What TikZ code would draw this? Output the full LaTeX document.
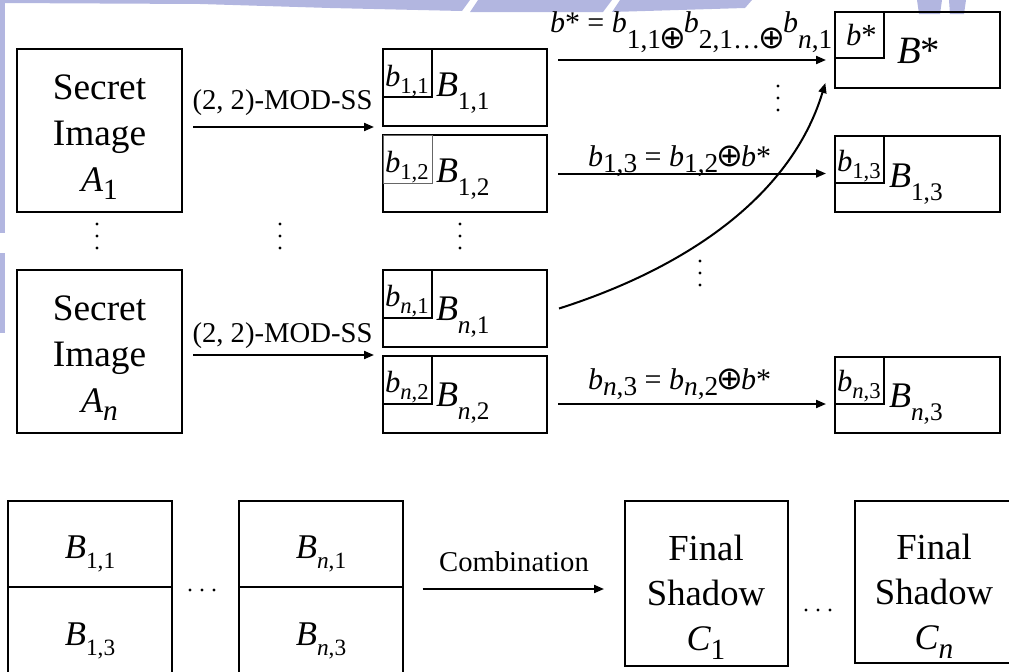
\documentclass[tikz,border=0pt]{standalone}
\usepackage{fontspec}
\setmainfont{Liberation Serif}
\newfontfamily\symf{DejaVu Sans}
\usepackage{graphicx}
\usetikzlibrary{arrows.meta,fit}
\definecolor{wm}{RGB}{178,182,224}

\newcommand\nn{{\itshape n}}
\newcommand\inB[2]{{\fontsize{27}{27}\selectfont\itshape #1\upshape\raisebox{-10pt}{\fontsize{19}{19}\selectfont #2}}}
\newcommand\inb[2]{{\fontsize{23}{23}\selectfont\itshape #1\upshape\raisebox{-5.5pt}{\fontsize{17}{17}\selectfont #2}}}
\newcommand\lsub[2]{{\itshape b}\raisebox{-#1}{\fontsize{20.5}{20.5}\selectfont #2}}
\newcommand\lop[1]{\kern-1.5pt\raisebox{-#1}{\symf\fontsize{24}{24}\selectfont ⊕}\kern-1.5pt}
\newcommand\botB[1]{{\fontsize{26}{26}\selectfont\itshape B\upshape\raisebox{-8pt}{\fontsize{17.5}{17.5}\selectfont #1}}}
\newcommand\bigfont{\fontsize{28}{34.5}\selectfont}
\newcommand\Asub[2]{{\fontsize{27}{27}\selectfont\itshape #1}\raisebox{-6.5pt}{\fontsize{22}{22}\selectfont #2}}

\begin{document}
\begin{tikzpicture}[x=0.75pt,y=-0.75pt,
  box/.style={draw,line width=1.5pt,inner sep=0pt},
  sbox/.style={draw,line width=1.3pt,inner sep=0pt},
  thinbox/.style={draw=black!60,line width=0.7pt,inner sep=0pt},
  arr/.style={line width=1.5pt,-{Triangle[length=7.5pt,width=6pt]}},
  txt/.style={inner sep=0pt,outer sep=0pt},
  bigtxt/.style={inner sep=0pt,align=center,font=\bigfont},
  lab/.style={inner sep=0pt,font=\fontsize{21.5}{21.5}\selectfont}]
\useasboundingbox (0,0) rectangle (1009,671);
% watermark
\fill[wm] (0,0)--(470,0)--(462,11)--(330,8)--(200,4)--(0,3)--cycle;
\fill[wm] (478,0)--(612,0)--(603,12)--(470,12)--cycle;
\fill[wm] (620,0)--(752,0)--(745,8)--(612,12)--cycle;
\fill[wm] (917,0)--(942,0)--(940,14)--(919,14)--cycle;
\fill[wm] (949,0)--(966,0)--(964,14)--(950,14)--cycle;
\fill[wm] (0,0)--(5,0)--(5,233)--(0,233)--cycle;
\fill[wm] (0,253)--(5,253)--(5,333)--(0,333)--cycle;

% secret images
\node[box,fit={(17,49)(182,212)}] (A1) {};
\node[box,fit={(17,270)(182,433)}] (An) {};
\node[bigtxt] (tA1) at (99.5,137) {Secret\\Image\\\Asub{A}{1}};
\node[bigtxt] (tAn) at (99.5,358) {Secret\\Image\\\Asub{A}{\nn}};

% share boxes
\node[box,fit={(383,49)(547,126)}] (B11) {};
\node[sbox,fit={(383,49)(432,97)}] (s11) {};
\node[box,fit={(383,135)(547,212)}] (B12) {};
\node[thinbox,fit={(383,135)(432,183)}] (s12) {};
\node[box,fit={(383,270)(547,347)}] (Bn1) {};
\node[sbox,fit={(383,270)(432,318)}] (sn1) {};
\node[box,fit={(383,356)(547,433)}] (Bn2) {};
\node[sbox,fit={(383,356)(432,404)}] (sn2) {};
\node[box,fit={(835,12)(1000,88)}] (Bs) {};
\node[sbox,fit={(835,12)(884,58)}] (ss) {};
\node[box,fit={(835,136)(1000,212)}] (B13) {};
\node[sbox,fit={(835,136)(884,183)}] (s13) {};
\node[box,fit={(835,357)(1000,433)}] (Bn3) {};
\node[sbox,fit={(835,357)(884,404)}] (sn3) {};

\node[txt,anchor=base west] (tB11) at (436,96) {\inB{B}{1,1}};
\node[txt,anchor=base west] (tb11) at (385,86) {\inb{b}{1,1}};
\node[txt,anchor=base west] (tB12) at (436,182) {\inB{B}{1,2}};
\node[txt,anchor=base west] (tb12) at (385,172) {\inb{b}{1,2}};
\node[txt,anchor=base west] (tBn1) at (436,320) {\inB{B}{\nn,1}};
\node[txt,anchor=base west] (tbn1) at (385,306) {\inb{b}{\nn,1}};
\node[txt,anchor=base west] (tBn2) at (436,406) {\inB{B}{\nn,2}};
\node[txt,anchor=base west] (tbn2) at (385,392) {\inb{b}{\nn,2}};
\node[txt,anchor=base west] (tBs) at (897,63) {\fontsize{29}{29}\selectfont\itshape B\upshape*};
\node[txt,anchor=base west] (tbs) at (846,45) {\fontsize{23}{23}\selectfont\itshape b\upshape*};
\node[txt,anchor=base west] (tB13) at (889,187) {\inB{B}{1,3}};
\node[txt,anchor=base west] (tb13) at (837,171) {\inb{b}{1,3}};
\node[txt,anchor=base west] (tBn3) at (889,407) {\inB{B}{\nn,3}};
\node[txt,anchor=base west] (tbn3) at (837,391) {\inb{b}{\nn,3}};

% arrows
\coordinate (yt) at (0,60);
\coordinate (yb) at (0,404);
\draw[arr,shorten <=7.5pt,shorten >=6pt] (A1.east |- B11.south west) -- (B11.south west)
  node[lab,pos=0.5,above=8pt] (l1) {(2, 2)-MOD-SS};
\draw[arr,shorten <=7.5pt,shorten >=6pt] (An.east |- Bn2.north west) -- (Bn2.north west)
  node[lab,pos=0.5,above=4pt] (l2) {(2, 2)-MOD-SS};
\draw[arr,shorten <=7.5pt,shorten >=6pt] (B11.east |- yt) -- (Bs.west |- yt);
\draw[arr,shorten <=7.5pt,shorten >=6pt] (B12.east) -- (B12.east -| B13.west);
\draw[arr,shorten <=7.5pt,shorten >=6pt] (Bn2.east |- yb) -- (Bn3.west |- yb);
\draw[line width=1.5pt,-{Triangle[length=7.5pt,width=6pt]}] ([xshift=8.25pt]Bn1.east) .. controls (680,270) and (790,200) .. ([xshift=-6.5pt,yshift=4.5pt]Bs.south west);

% arrow labels
\node[txt,anchor=base west] (eq1) at (550,32) {\fontsize{22.5}{22.5}\selectfont{\itshape b}* = \lsub{12.5pt}{1,1}\lop{12pt}\lsub{12.5pt}{2,1}\raisebox{-12.5pt}{\fontsize{20.5}{20.5}\selectfont\dots}\lop{12pt}\lsub{12.5pt}{\nn,1}};
\node[txt,anchor=base west] (eq2) at (588,166) {\fontsize{22.5}{22.5}\selectfont\lsub{5pt}{1,3} = \lsub{5pt}{1,2}\lop{0pt}{\itshape b}*};
\node[txt,anchor=base west] (eq3) at (588,389) {\fontsize{22.5}{22.5}\selectfont\lsub{5pt}{\nn,3} = \lsub{5pt}{\nn,2}\lop{0pt}{\itshape b}*};

% vertical dots
\foreach \x/\y in {97/224, 280/224, 460/224, 778/86, 700/261}
  \foreach \k in {0,1,2} \fill (\x,\y+12*\k) circle[radius=1.6];

% bottom row
\node[box,fit={(8,501)(172,675)}] (L1) {};
\node[box,fit={(239,501)(403,675)}] (L2) {};
\draw[line width=1.5pt] (L1.west |- 0,587) -- (L1.east |- 0,587);
\draw[line width=1.5pt] (L2.west |- 0,587) -- (L2.east |- 0,587);
\node[txt,anchor=base] (tL11) at (90,558) {\botB{1,1}};
\node[txt,anchor=base] (tL13) at (90,645) {\botB{1,3}};
\node[txt,anchor=base] (tL21) at (321,558) {\botB{\nn,1}};
\node[txt,anchor=base] (tL23) at (321,645) {\botB{\nn,3}};
\foreach \x in {190,202,214} \fill (\x,590) circle[radius=1.6];

\node[box,fit={(625,501)(788,666)}] (C1) {};
\node[box,fit={(855,501)(1018,663)}] (Cn) {};
\node[bigtxt,font=\fontsize{27.5}{34}\selectfont] (tC1) at (706,597) {Final\\Shadow\\\Asub{C}{1}};
\node[bigtxt,font=\fontsize{27.5}{34}\selectfont] (tCn) at (934,596) {Final\\Shadow\\\Asub{C}{\nn}};
\foreach \x in {806,818,830} \fill (\x,610) circle[radius=1.6];

\coordinate (yc) at (0,589);
\draw[arr,shorten <=14pt,shorten >=15pt] (L2.east |- yc) -- (C1.west |- yc)
  node[lab,pos=0.5,above=12pt] (l3) {Combination};
\end{tikzpicture}
\end{document}
